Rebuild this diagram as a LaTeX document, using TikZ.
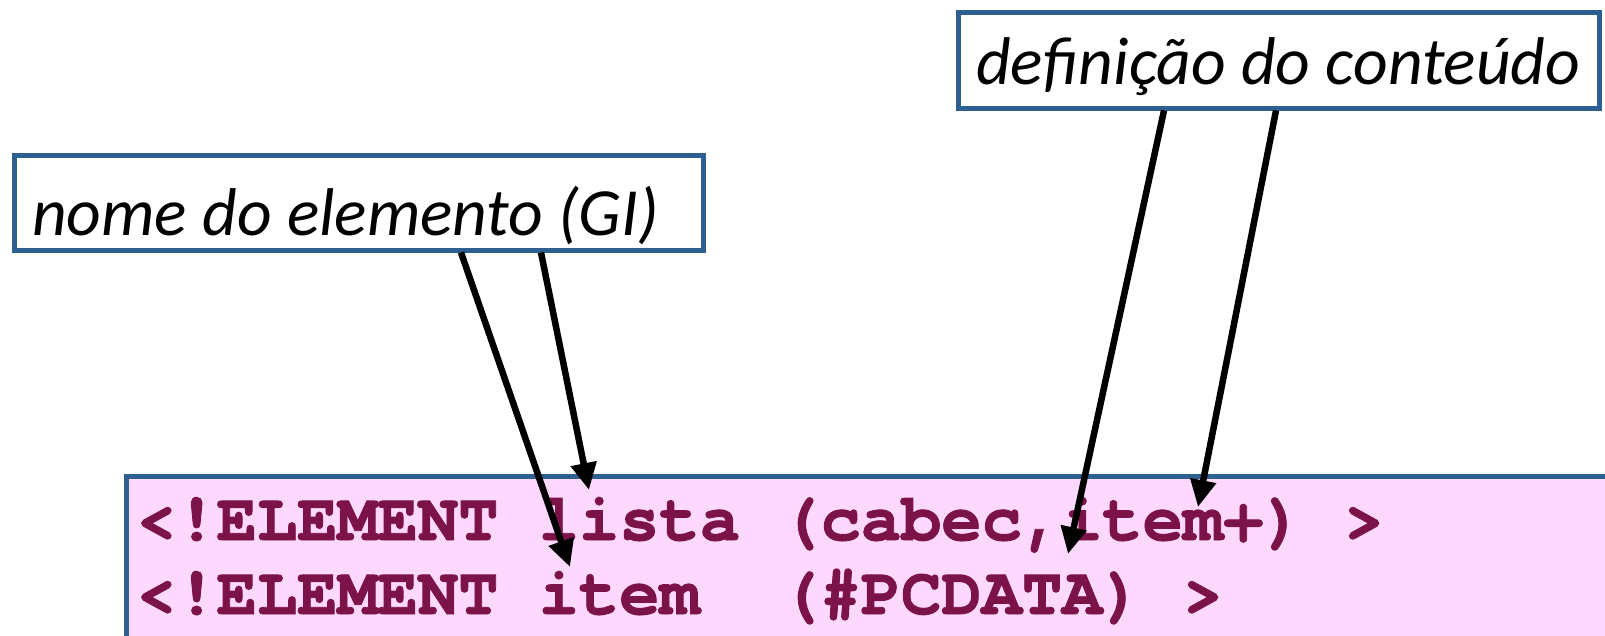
\documentclass[tikz,border=0pt]{standalone}
\usepackage{fontspec}
\setmainfont{Carlito}
\newfontfamily\codefont{texgyrecursor}[Extension=.otf, UprightFont=*-regular, BoldFont=*-bold,
  BoldFeatures={FakeBold=1.3}]
\usetikzlibrary{arrows.meta,calc}
\definecolor{frameblue}{RGB}{46,95,145}
\definecolor{codepink}{RGB}{255,216,255}
\definecolor{codetext}{RGB}{123,18,72}
\tikzset{
  labelbox/.style={draw=frameblue, line width=4.5pt, fill=white, anchor=north west,
    inner ysep=0pt, inner xsep=0pt, font=\fontsize{67.5}{72}\selectfont\itshape},
  pointer/.style={line width=6.5pt, -{Triangle[length=27pt,width=25pt]}},
  codeline/.style={anchor=base west, inner sep=0pt, text=codetext,
    font=\codefont\bfseries\fontsize{67.1}{70}\selectfont}
}
\begin{document}
\begin{tikzpicture}[x=1pt,y=-1pt]
  \useasboundingbox (0,0) rectangle (1605,635);
  % code panel
  \node[draw=frameblue, fill=codepink, line width=4.5pt, anchor=north west,
        minimum width=1500pt, minimum height=200pt, inner sep=0pt] (code) at (124,474) {};
  \node[codeline] (l1) at (136,540) {<!ELEMENT lista (cabec,item+) >};
  \node[codeline] (l2) at (136,614) {<!ELEMENT item\ \ (\#PCDATA) >};
  % callout boxes
  \node[labelbox, text height=80pt, text depth=15pt]
    (nome) at (12,153) {\makebox[689pt][l]{\hspace{18pt}nome do elemento (GI)}};
  \node[labelbox, text height=72pt, text depth=24pt]
    (defn) at (956,10) {\makebox[641pt][l]{\hspace{18pt}definição do conteúdo}};
  % pointer ends
  \coordinate (nA) at ($(nome.south west)+(449,0)$);
  \coordinate (nB) at ($(nome.south west)+(529,0)$);
  \coordinate (dA) at ($(defn.south west)+(208,0)$);
  \coordinate (dB) at ($(defn.south west)+(320,0)$);
  \coordinate (tItem) at (570,567);
  \coordinate (tLista) at (589,490);
  \coordinate (tCabec) at (1068,554);
  \coordinate (tPlus) at (1198,507);
  \draw[pointer] (nA) -- (tItem);
  \draw[pointer] (nB) -- (tLista);
  \draw[pointer] (dA) -- (tCabec);
  \draw[pointer] (dB) -- (tPlus);
\end{tikzpicture}
\end{document}
